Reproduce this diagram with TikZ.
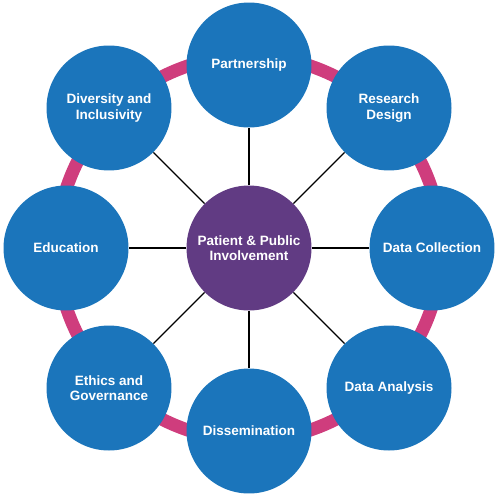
\documentclass[tikz,border=0pt]{standalone}
\usepackage{fontspec}
\setmainfont{Liberation Sans}
\usetikzlibrary{positioning}
\definecolor{topicblue}{RGB}{27,117,187}
\definecolor{ppipurple}{RGB}{97,59,131}
\definecolor{ringpink}{RGB}{207,61,125}
\tikzset{
  topic/.style={
    shape = circle,
    fill = topicblue,
    minimum size = 2.5cm,
    inner sep = 0pt,
    text = white,
    align = center,
    font = \fontsize{7.7}{8.6}\selectfont\bfseries
  },
  hub/.style={
    topic,
    fill = ppipurple
  },
  spoke/.style={
    line width = 0.65pt,
    black
  },
  ring/.style={
    line width = 0.26cm,
    ringpink
  }
}
\begin{document}
\begin{tikzpicture}[x=0.02cm,y=-0.02cm]
    \useasboundingbox (0,0) rectangle (500,494);
    \def\cx{249}
    \def\cy{248}
    \def\R{183}
    \def\Rd{198}
        \draw[ring] (\cx,\cy) circle[radius=192];
        \node[hub] (ppi) at (\cx,\cy) {Patient \& Public\\Involvement};
        \foreach \name/\ang/\rad/\txt in {
          partner/90/\R/Partnership,
          design/45/\Rd/{Research\\Design},
          collect/0/\R/Data Collection,
          analysis/-45/\Rd/Data Analysis,
          dissem/-90/\R/Dissemination,
          ethics/-135/\Rd/{Ethics and\\Governance},
          educ/180/\R/Education,
          divers/135/\Rd/{Diversity and\\Inclusivity}}{
        \node[topic] (\name) at ({\cx+\rad*cos(\ang)},{\cy-\rad*sin(\ang)}) {\txt};
        \draw[spoke] (ppi) -- (\name);
        }
    \end{tikzpicture}
\end{document}
